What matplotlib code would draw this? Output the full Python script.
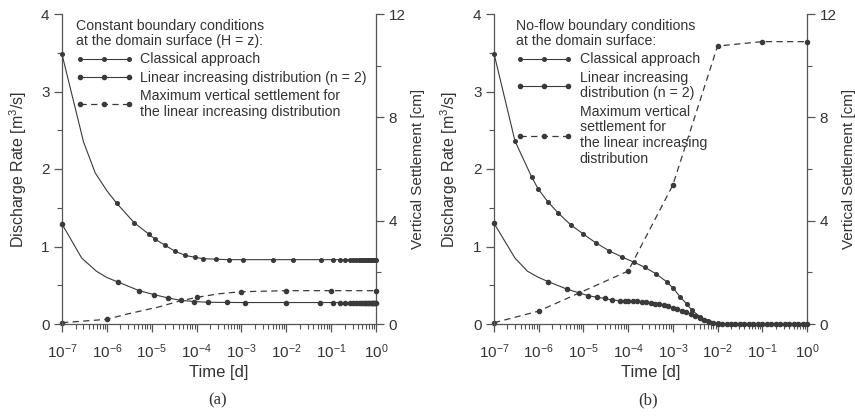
import numpy as np
import matplotlib
matplotlib.use("Agg")
import matplotlib.pyplot as plt
from matplotlib.lines import Line2D
from matplotlib.ticker import LogLocator, LogFormatterMathtext, MultipleLocator, NullFormatter

plt.rcParams['font.family'] = ['Liberation Sans', 'DejaVu Sans']
plt.rcParams['mathtext.fontset'] = 'custom'
plt.rcParams['mathtext.rm'] = 'Liberation Sans'
plt.rcParams['mathtext.it'] = 'Liberation Sans:italic'
plt.rcParams['mathtext.bf'] = 'Liberation Sans:bold'

# ---------------- Panel (a): constant boundary conditions ----------------
a_classical_logt = [-7.0, -6.52, -6.26, -6.0, -5.78, -5.39, -5.06, -4.93, -4.70, -4.49,
                    -4.26, -4.03, -3.85, -3.57, -3.28, -2.97, -2.29, -1.84, -1.23,
                    -0.96, -0.80, -0.68, -0.585, -0.51, -0.444, -0.387, -0.337, -0.292,
                    -0.252, -0.215, -0.18, -0.149, -0.119, -0.092, -0.066, -0.041, -0.018, 0.0]
a_classical_q = [3.48, 2.35, 1.95, 1.72, 1.557, 1.307, 1.157, 1.097, 1.015, 0.942,
                 0.886, 0.86, 0.843, 0.836, 0.83, 0.83, 0.83, 0.83, 0.83,
                 0.83, 0.83, 0.83, 0.83, 0.83, 0.83, 0.83, 0.83, 0.83,
                 0.83, 0.83, 0.83, 0.83, 0.83, 0.83, 0.83, 0.83, 0.83, 0.83]
a_classical_unmarked = [1, 2, 3]

a_linear_logt = [-7.0, -6.56, -6.23, -6.0, -5.745, -5.28, -4.94, -4.63, -4.35, -4.05,
                 -3.74, -3.33, -2.92, -2.01, -1.25,
                 -0.96, -0.80, -0.68, -0.585, -0.51, -0.444, -0.387, -0.337, -0.292,
                 -0.252, -0.215, -0.18, -0.149, -0.119, -0.092, -0.066, -0.041, -0.018, 0.0]
a_linear_q = [1.29, 0.85, 0.68, 0.60, 0.54, 0.43, 0.378, 0.335, 0.305, 0.29,
              0.28, 0.278, 0.277, 0.277, 0.277,
              0.277, 0.277, 0.277, 0.277, 0.277, 0.277, 0.277, 0.277, 0.277,
              0.277, 0.277, 0.277, 0.277, 0.277, 0.277, 0.277, 0.277, 0.277, 0.277]
a_linear_unmarked = [1, 2, 3]

a_settle_logt = [-7.0, -6.0, -5.56, -4.82, -4.4, -4.0, -3.5, -3.0, -2.0, -1.0, 0.0]
a_settle_cm = [0.05, 0.18, 0.38, 0.67, 0.88, 1.03, 1.17, 1.25, 1.29, 1.29, 1.29]
a_settle_unmarked = [2, 3, 4, 6]

# ---------------- Panel (b): no-flow boundary conditions ----------------
b_classical_logt = [-7.0, -6.53, -6.16, -6.01, -5.80, -5.56, -5.28, -5.0, -4.73, -4.43,
                    -4.14, -3.86, -3.62, -3.38, -3.14, -2.99, -2.84, -2.69, -2.58, -2.39,
                    -2.21, -2.0, -1.9, -1.8, -1.7, -1.6, -1.5, -1.4, -1.3, -1.2, -1.1,
                    -1.0, -0.9, -0.8, -0.7, -0.6, -0.5, -0.4, -0.3, -0.2, -0.1, 0.0]
b_classical_q = [3.49, 2.36, 1.90, 1.74, 1.58, 1.43, 1.277, 1.16, 1.05, 0.946,
                 0.865, 0.795, 0.73, 0.648, 0.546, 0.46, 0.352, 0.258, 0.18, 0.094,
                 0.043, 0.01, 0.004, 0.001, 0.0, 0.0, 0.0, 0.0, 0.0, 0.0, 0.0,
                 0.0, 0.0, 0.0, 0.0, 0.0, 0.0, 0.0, 0.0, 0.0, 0.0, 0.0]
b_classical_unmarked = []

b_linear_logt = [-7.0, -6.53, -6.25, -6.0, -5.785, -5.37, -5.09, -4.89, -4.70, -4.52,
                 -4.37, -4.18, -4.07,
                 -4.0, -3.9, -3.8, -3.7, -3.6, -3.5, -3.4, -3.3, -3.2, -3.1,
                 -3.0, -2.9, -2.8, -2.7, -2.6, -2.5, -2.4, -2.3, -2.2, -2.1,
                 -2.0, -1.9, -1.8, -1.7, -1.6, -1.5, -1.4, -1.3, -1.2, -1.1,
                 -1.0, -0.9, -0.8, -0.7, -0.6, -0.5, -0.4, -0.3, -0.2, -0.1, 0.0]
b_linear_q = [1.30, 0.85, 0.68, 0.60, 0.546, 0.45, 0.40, 0.365, 0.345, 0.33,
              0.31, 0.30, 0.298,
              0.298, 0.297, 0.293, 0.287, 0.280, 0.272, 0.263, 0.252, 0.240, 0.226,
              0.210, 0.192, 0.172, 0.150, 0.125, 0.100, 0.075, 0.050, 0.028, 0.012,
              0.004, 0.001, 0.0, 0.0, 0.0, 0.0, 0.0, 0.0, 0.0, 0.0,
              0.0, 0.0, 0.0, 0.0, 0.0, 0.0, 0.0, 0.0, 0.0, 0.0, 0.0]
b_linear_unmarked = [1, 2, 3]

b_settle_logt = [-7.0, -6.0, -4.0, -3.0, -2.0, -1.0, 0.0]
b_settle_cm = [0.05, 0.50, 2.05, 5.38, 10.76, 10.93, 10.93]
b_settle_unmarked = []

x_ticks_exp = [-7, -6, -5, -4, -3, -2, -1, 0]
q_ticks = [0, 1, 2, 3, 4]
s_ticks = [0, 4, 8, 12]

legend_titles = ["Constant boundary conditions\nat the domain surface (H = z):",
                 "No-flow boundary conditions\nat the domain surface:"]
legend_labels = [
    ["Classical approach", "Linear increasing distribution (n = 2)",
     "Maximum vertical settlement for\nthe linear increasing distribution"],
    ["Classical approach", "Linear increasing\ndistribution (n = 2)",
     "Maximum vertical\nsettlement for\nthe linear increasing\ndistribution"],
]
captions = ["(a)", "(b)"]

LC = '#3a3a3a'
AC = '#555555'
TC = '#333333'

fig = plt.figure(figsize=(8.55, 4.16), dpi=100)
W, H = 855, 416

panels = [
    dict(x0=62, x1=376,
         cls=(a_classical_logt, a_classical_q, a_classical_unmarked),
         lin=(a_linear_logt, a_linear_q, a_linear_unmarked),
         st=(a_settle_logt, a_settle_cm, a_settle_unmarked), cap_x=218, leg_x=0.045),
    dict(x0=494, x1=807,
         cls=(b_classical_logt, b_classical_q, b_classical_unmarked),
         lin=(b_linear_logt, b_linear_q, b_linear_unmarked),
         st=(b_settle_logt, b_settle_cm, b_settle_unmarked), cap_x=648, leg_x=0.07),
]

y_top, y_bot = 14, 324


def marks(n, unmarked):
    return [i for i in range(n) if i not in unmarked]


for k, p in enumerate(panels):
    ax = fig.add_axes([p['x0'] / W, 1 - y_bot / H, (p['x1'] - p['x0']) / W, (y_bot - y_top) / H])
    ax2 = ax.twinx()
    ax.set_zorder(ax2.get_zorder() + 1)
    ax.patch.set_visible(False)

    lt, q, um = p['cls']
    t = 10 ** np.array(lt)
    ax.plot(t, q, color=LC, lw=0.8, marker='o', ms=2.6, mec=LC, mfc=LC,
            markevery=marks(len(t), um), clip_on=False, zorder=3)
    lt, q, um = p['lin']
    t = 10 ** np.array(lt)
    ax.plot(t, q, color=LC, lw=0.8, marker='o', ms=3.0, mec=LC, mfc=LC,
            markevery=marks(len(t), um), clip_on=False, zorder=3)
    lt, s, um = p['st']
    t = 10 ** np.array(lt)
    ax2.plot(t, s, color=LC, lw=0.9, ls=(0, (5, 3.5)), marker='o', ms=3.0, mec=LC, mfc=LC,
             markevery=marks(len(t), um), clip_on=False, zorder=3)

    for a in (ax, ax2):
        a.set_xscale('log')
        a.set_xlim(1e-7, 1e0)
        a.spines['top'].set_visible(False)
        for sp in ('left', 'right', 'bottom'):
            a.spines[sp].set_color(AC)
            a.spines[sp].set_linewidth(0.9)
    ax.spines['right'].set_visible(False)
    ax2.spines['left'].set_visible(False)
    ax2.spines['bottom'].set_visible(False)

    ax.set_ylim(0, 4)
    ax2.set_ylim(0, 12)
    ax.set_xticks([10.0 ** e for e in x_ticks_exp])
    ax.xaxis.set_major_formatter(LogFormatterMathtext())
    ax.xaxis.set_minor_locator(LogLocator(base=10, subs=np.arange(2, 10), numticks=20))
    ax.xaxis.set_minor_formatter(NullFormatter())
    ax.set_yticks(q_ticks)
    ax.yaxis.set_minor_locator(MultipleLocator(0.5))
    ax2.set_yticks(s_ticks)
    ax2.yaxis.set_minor_locator(MultipleLocator(2))

    for a in (ax, ax2):
        a.tick_params(which='major', direction='out', length=6, width=0.9, color=AC,
                      labelsize=11, labelcolor=TC, pad=3)
        a.tick_params(which='minor', direction='out', length=3.5, width=0.8, color=AC)
    ax.tick_params(axis='x', which='major', pad=7)

    ax.set_xlabel('Time [d]', fontsize=12, color=TC, labelpad=3)
    ax.set_ylabel('Discharge Rate [m$^3$/s]', fontsize=11.5, color=TC, labelpad=9)
    ax2.set_ylabel('Vertical Settlement [cm]', fontsize=11, color=TC, labelpad=4)

    handles = [
        Line2D([], [], color=LC, lw=0.8, marker='o', ms=2.6),
        Line2D([], [], color=LC, lw=0.8, marker='o', ms=3.0),
        Line2D([], [], color=LC, lw=0.9, ls=(0, (5, 3.5)), marker='o', ms=3.0),
    ]
    leg = ax.legend(handles, legend_labels[k], title=legend_titles[k], loc='upper left',
                    bbox_to_anchor=(p['leg_x'], 0.985), frameon=False,
                    fontsize=10.2, title_fontsize=10.2, numpoints=3, handlelength=4.0,
                    handletextpad=0.5, borderaxespad=0, borderpad=0, labelspacing=0.3,
                    alignment='left', labelcolor=TC)
    leg.get_title().set_color(TC)
    leg.get_title().set_linespacing(1.15)
    leg._legend_box.sep = 3
    for txt in leg.get_texts():
        txt.set_linespacing(1.15)

    fig.text(p['cap_x'] / W, 1 - 400 / H, captions[k], ha='center', va='center',
             fontsize=12, color=TC, family=['Liberation Serif', 'DejaVu Serif'])

fig.savefig('out.png', dpi=100)
